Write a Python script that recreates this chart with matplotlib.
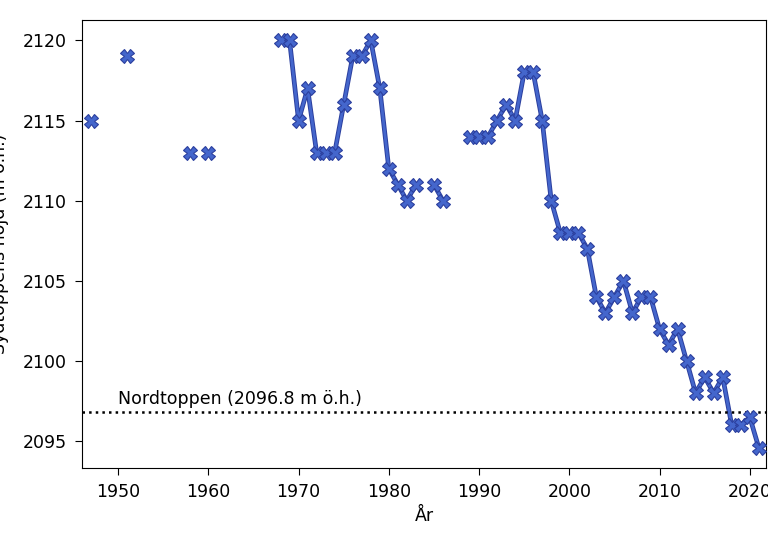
import numpy as np
import matplotlib
matplotlib.use("Agg")
import matplotlib.pyplot as plt
import matplotlib.patheffects as pe

years = [1947, 1951, 1958, 1960, 1968, 1969, 1970, 1971, 1972, 1973, 1974,
         1975, 1976, 1977, 1978, 1979, 1980, 1981, 1982, 1983, 1985, 1986,
         1989, 1990, 1991, 1992, 1993, 1994, 1995, 1996, 1997, 1998, 1999,
         2000, 2001, 2002, 2003, 2004, 2005, 2006, 2007, 2008, 2009, 2010,
         2011, 2012, 2013, 2014, 2015, 2016, 2017, 2018, 2019, 2020, 2021]
heights = [2115, 2119, 2113, 2113, 2120, 2120, 2115, 2117, 2113, 2113, 2113,
           2116, 2119, 2119, 2120, 2117, 2112, 2111, 2110, 2111, 2111, 2110,
           2114, 2114, 2114, 2115, 2116, 2115, 2118, 2118, 2115, 2110, 2108,
           2108, 2108, 2107, 2104, 2103, 2104, 2105, 2103, 2104, 2104, 2102,
           2101, 2102, 2100, 2098, 2099, 2098, 2099, 2096, 2096, 2096.5, 2094.6]
nordtoppen = 2096.8
nord_label = "Nordtoppen (2096.8 m ö.h.)"

# full year range, NaN where no measurement -> line breaks at gaps
all_years = np.arange(min(years), max(years) + 1)
vals = np.full(all_years.shape, np.nan)
for y, h in zip(years, heights):
    vals[y - min(years)] = h

fig = plt.figure(figsize=(7.68, 5.49), dpi=100)
ax = fig.add_axes([82/768, 1 - 468/549, (766 - 82)/768, (468 - 20)/549])

ax.plot(all_years, vals, color="#4466cc", lw=2.0, zorder=2,
        path_effects=[pe.Stroke(linewidth=3.4, foreground="#2b3f9e"), pe.Normal()])
ax.plot(all_years, vals, ls="none", marker="X", ms=10, color="#4466cc",
        markeredgecolor="#2b3f9e", markeredgewidth=0.8, zorder=3)
ax.axhline(nordtoppen, color="black", ls=":", lw=1.8)
ax.text(1950, nordtoppen + 0.25, nord_label, fontsize=12.5, va="bottom", ha="left")

ax.set_xlim(1946, 2021.8)
ax.set_xticks([1950, 1960, 1970, 1980, 1990, 2000, 2010, 2020])
ax.set_yticks([2095, 2100, 2105, 2110, 2115, 2120])
ax.tick_params(labelsize=12.5, length=5, pad=6)
ax.set_xlabel("År", fontsize=12.5, labelpad=4)
ax.set_ylabel("Sydtoppens höjd (m ö.h.)", fontsize=12.5, labelpad=10)

fig.savefig("out.png", dpi=100)
